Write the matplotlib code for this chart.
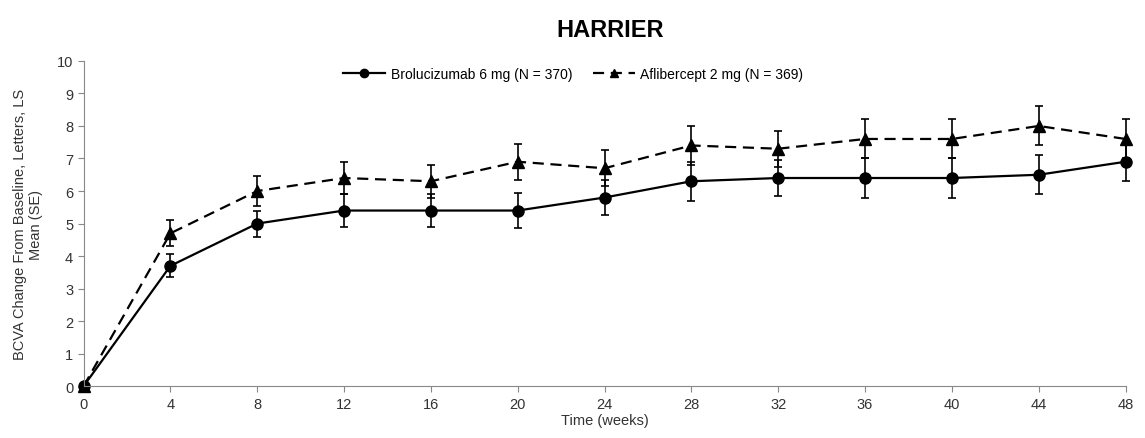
import numpy as np
import matplotlib
matplotlib.use("Agg")
import matplotlib.pyplot as plt
from matplotlib.lines import Line2D

plt.rcParams['font.family'] = ['Liberation Sans', 'DejaVu Sans']

weeks = [0, 4, 8, 12, 16, 20, 24, 28, 32, 36, 40, 44, 48]
brolu = [0, 3.7, 5.0, 5.4, 5.4, 5.4, 5.8, 6.3, 6.4, 6.4, 6.4, 6.5, 6.9]
brolu_se = [0, 0.35, 0.4, 0.5, 0.5, 0.55, 0.55, 0.6, 0.55, 0.6, 0.6, 0.6, 0.6]
afli = [0, 4.7, 6.0, 6.4, 6.3, 6.9, 6.7, 7.4, 7.3, 7.6, 7.6, 8.0, 7.6]
afli_se = [0, 0.4, 0.45, 0.5, 0.5, 0.55, 0.55, 0.6, 0.55, 0.6, 0.6, 0.6, 0.6]

labels = ['Brolucizumab 6 mg (N = 370)', 'Aflibercept 2 mg (N = 369)']

fig = plt.figure(figsize=(11.45, 4.39), dpi=100)
ax = fig.add_axes([0.073, 0.118, 0.910, 0.741])

dash = (0, (5, 3))
ax.errorbar(weeks, brolu, yerr=brolu_se, color='black', marker='o', markersize=8,
            linewidth=1.6, capsize=3, elinewidth=1.2, capthick=1.2, clip_on=False)
ax.errorbar(weeks, afli, yerr=afli_se, color='black', marker='^', markersize=8,
            linewidth=1.6, linestyle=dash, capsize=3, elinewidth=1.2, capthick=1.2,
            clip_on=False)

ax.set_xlim(0, 48)
ax.set_ylim(0, 10)
ax.set_xticks(weeks)
ax.set_yticks(range(0, 11))
for s in ['top', 'right']:
    ax.spines[s].set_visible(False)
for s in ['left', 'bottom']:
    ax.spines[s].set_color('#888888')
ax.tick_params(colors='#888888', labelcolor='#333333', labelsize=10.5, direction='out', length=4)

ax.set_xlabel('Time (weeks)', fontsize=10.5, color='#333333', labelpad=2)
ax.set_ylabel('BCVA Change From Baseline, Letters, LS\nMean (SE)', fontsize=10.5,
              color='#333333', labelpad=10)
fig.text(0.533, 0.93, 'HARRIER', ha='center', va='center', fontsize=17, fontweight='bold')

handles = [Line2D([], [], color='black', marker='o', markersize=6, linewidth=1.6),
           Line2D([], [], color='black', marker='^', markersize=6, linewidth=1.6,
                  linestyle=dash)]
ax.legend(handles, labels, loc='upper center', bbox_to_anchor=(0.47, 1.02), ncol=2,
          frameon=False, fontsize=10, handlelength=3, columnspacing=1.5, handletextpad=0.4)

fig.savefig('out.png', dpi=100)
